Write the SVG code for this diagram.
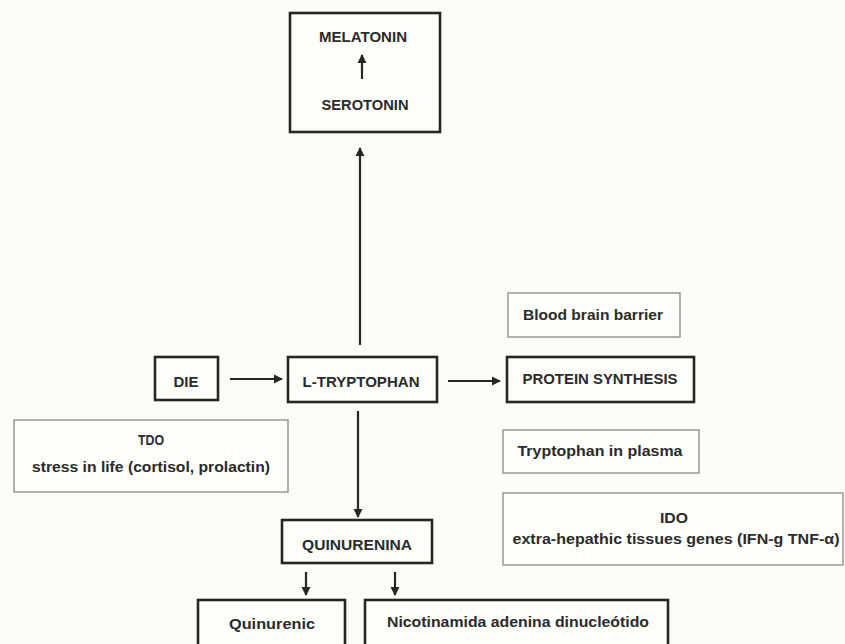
<svg xmlns="http://www.w3.org/2000/svg" width="845" height="644" viewBox="0 0 845 644">
<defs>
<style>
.bg{fill:#fcfcf6}
.main{fill:#fdfdf9;stroke:#262626;stroke-width:2.6}
.info{fill:#fdfdf9;stroke:#8a8a84;stroke-width:1.3}
.t{font-family:"Liberation Sans",Arial,sans-serif;font-size:15.5px;font-weight:bold;fill:#2b2b2b}
.tc{text-anchor:middle}
.ln{stroke:#262626;stroke-width:2.2;fill:none}
</style>
<marker id="ah" viewBox="0 0 10 10" refX="9" refY="5" markerWidth="4.2" markerHeight="4.2" orient="auto" markerUnits="strokeWidth">
<path d="M0,0 L10,5 L0,10 z" fill="#262626"/>
</marker>
</defs>
<rect class="bg" x="0" y="0" width="845" height="644"/>

<g id="connectors">
<line class="ln" x1="360" y1="345" x2="360" y2="148" marker-end="url(#ah)"/>
<line class="ln" x1="230" y1="379" x2="282" y2="379" marker-end="url(#ah)"/>
<line class="ln" x1="448" y1="381" x2="500" y2="381" marker-end="url(#ah)"/>
<line class="ln" x1="358" y1="411" x2="358" y2="517" marker-end="url(#ah)"/>
<line class="ln" x1="306" y1="572" x2="306" y2="595" marker-end="url(#ah)"/>
<line class="ln" x1="395" y1="572" x2="395" y2="595" marker-end="url(#ah)"/>
</g>

<g id="melatonin-serotonin">
<rect class="main" x="290" y="13" width="150" height="119"/>
<text class="t tc" x="363" y="42" textLength="88" lengthAdjust="spacingAndGlyphs">MELATONIN</text>
<line class="ln" x1="362" y1="79" x2="362" y2="55" marker-end="url(#ah)"/>
<text class="t tc" x="365" y="110" textLength="87" lengthAdjust="spacingAndGlyphs">SEROTONIN</text>
</g>

<g id="die">
<rect class="main" x="155" y="357" width="63" height="43"/>
<text class="t tc" x="186" y="387" textLength="25" lengthAdjust="spacingAndGlyphs">DIE</text>
</g>

<g id="l-tryptophan">
<rect class="main" x="288" y="357" width="149" height="45"/>
<text class="t tc" x="361" y="387" textLength="117" lengthAdjust="spacingAndGlyphs">L-TRYPTOPHAN</text>
</g>

<g id="blood-brain-barrier">
<rect class="info" x="508" y="293" width="172" height="44"/>
<text class="t tc" x="593" y="320" textLength="140" lengthAdjust="spacingAndGlyphs">Blood brain barrier</text>
</g>

<g id="protein-synthesis">
<rect class="main" x="507" y="357" width="187" height="45"/>
<text class="t tc" x="600" y="384" textLength="155" lengthAdjust="spacingAndGlyphs">PROTEIN SYNTHESIS</text>
</g>

<g id="tryptophan-plasma">
<rect class="info" x="503" y="430" width="196" height="43"/>
<text class="t tc" x="600" y="456" textLength="165" lengthAdjust="spacingAndGlyphs">Tryptophan in plasma</text>
</g>

<g id="tdo">
<rect class="info" x="14" y="420" width="274" height="72"/>
<text class="t tc" x="151" y="445" textLength="26" lengthAdjust="spacingAndGlyphs">TDO</text>
<text class="t tc" x="151" y="472" textLength="238" lengthAdjust="spacingAndGlyphs">stress in life (cortisol, prolactin)</text>
</g>

<g id="ido">
<rect class="info" x="503" y="493" width="340" height="72"/>
<text class="t tc" x="674" y="523" textLength="28" lengthAdjust="spacingAndGlyphs">IDO</text>
<text class="t tc" x="676" y="544" textLength="327" lengthAdjust="spacingAndGlyphs">extra-hepathic tissues genes (IFN-g TNF-α)</text>
</g>

<g id="quinurenina">
<rect class="main" x="282" y="520" width="150" height="43"/>
<text class="t tc" x="357" y="550" textLength="110" lengthAdjust="spacingAndGlyphs">QUINURENINA</text>
</g>

<g id="quinurenic">
<rect class="main" x="198" y="600" width="147" height="52"/>
<text class="t tc" x="272" y="629" textLength="86" lengthAdjust="spacingAndGlyphs">Quinurenic</text>
</g>

<g id="nicotinamida">
<rect class="main" x="365" y="600" width="303" height="52"/>
<text class="t tc" x="518" y="627" textLength="262" lengthAdjust="spacingAndGlyphs">Nicotinamida adenina dinucleótido</text>
</g>
</svg>
